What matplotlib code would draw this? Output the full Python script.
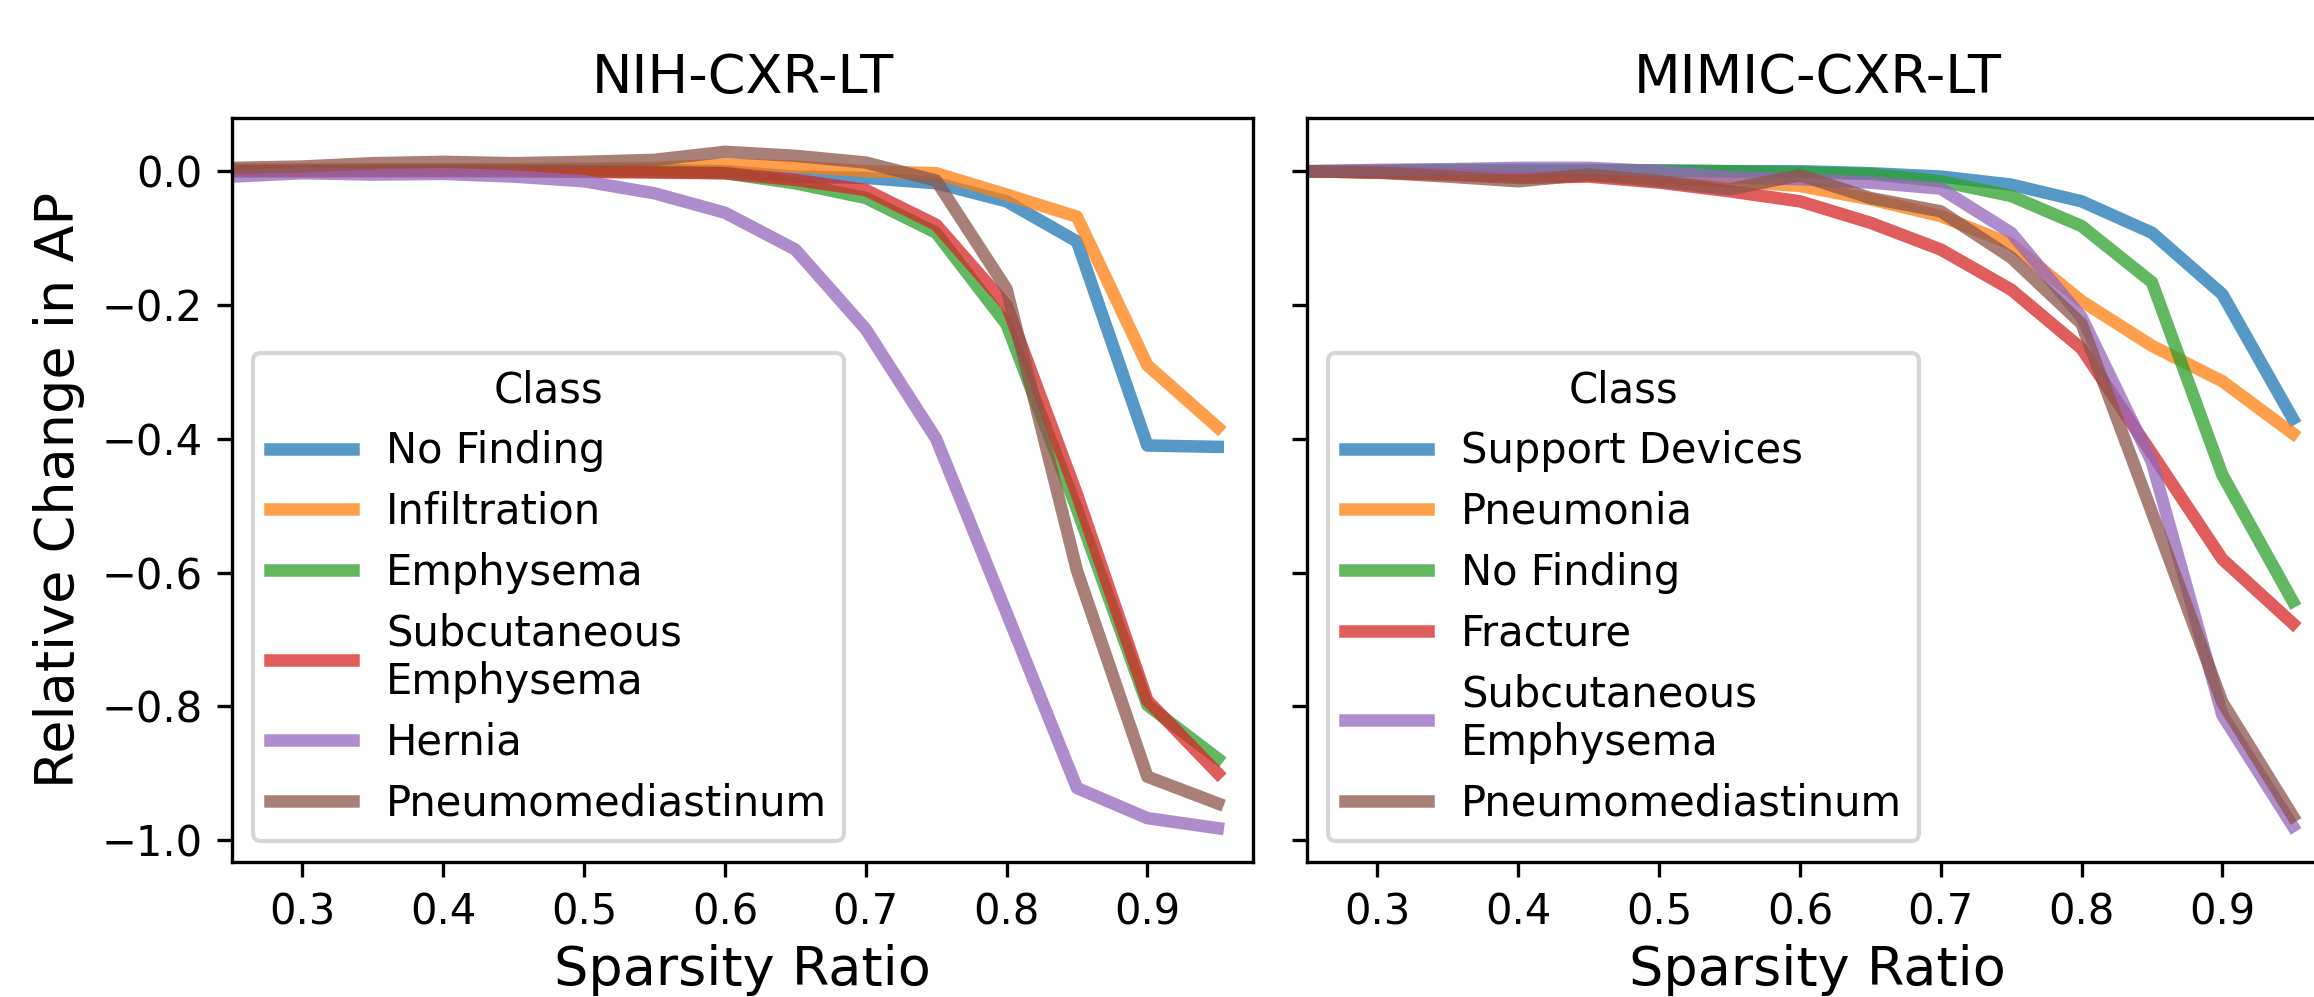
import matplotlib
matplotlib.use("Agg")
import matplotlib.pyplot as plt
import numpy as np

# sparsity ratios on the x axis
sparsity = [0.25, 0.3, 0.35, 0.4, 0.45, 0.5, 0.55, 0.6, 0.65, 0.7, 0.75, 0.8, 0.85, 0.9, 0.95]

# NIH-CXR-LT, relative change in AP per class
nih_classes = ["No Finding", "Infiltration", "Emphysema", "Subcutaneous\nEmphysema",
               "Hernia", "Pneumomediastinum"]
nih_no_finding = [0.002, 0.002, 0.002, 0.003, 0.002, 0.002, 0.002, 0.0, -0.008, -0.01, -0.018, -0.045, -0.105, -0.41, -0.412]
nih_infiltration = [0.002, 0.002, 0.003, 0.003, 0.003, 0.004, 0.005, 0.01, 0.007, 0.0, -0.003, -0.035, -0.068, -0.29, -0.383]
nih_emphysema = [0.0, 0.0, 0.001, 0.001, 0.0, 0.0, -0.001, -0.003, -0.018, -0.04, -0.092, -0.229, -0.505, -0.798, -0.878]
nih_subcut = [0.0, 0.0, 0.0, 0.0, 0.0, -0.001, -0.002, -0.003, -0.013, -0.028, -0.08, -0.2, -0.483, -0.791, -0.9]
nih_hernia = [-0.008, -0.003, -0.005, -0.004, -0.008, -0.015, -0.033, -0.062, -0.117, -0.236, -0.4, -0.66, -0.922, -0.967, -0.982]
nih_pneumomed = [0.005, 0.007, 0.012, 0.014, 0.012, 0.014, 0.017, 0.029, 0.023, 0.013, -0.014, -0.176, -0.597, -0.905, -0.945]

# MIMIC-CXR-LT, relative change in AP per class
mimic_classes = ["Support Devices", "Pneumonia", "No Finding", "Fracture",
                 "Subcutaneous\nEmphysema", "Pneumomediastinum"]
mimic_support = [0.0, 0.0, 0.001, 0.001, 0.001, 0.001, 0.0, 0.0, -0.003, -0.008, -0.02, -0.045, -0.092, -0.184, -0.37]
mimic_pneumonia = [0.0, -0.002, -0.005, -0.008, -0.006, -0.011, -0.015, -0.022, -0.042, -0.067, -0.109, -0.194, -0.261, -0.314, -0.392]
mimic_no_finding = [0.0, 0.001, 0.002, 0.002, 0.002, 0.001, 0.0, -0.002, -0.004, -0.015, -0.037, -0.082, -0.166, -0.454, -0.643]
mimic_fracture = [0.0, -0.002, -0.005, -0.01, -0.008, -0.017, -0.03, -0.045, -0.077, -0.117, -0.177, -0.265, -0.422, -0.58, -0.676]
mimic_subcut = [0.0, 0.002, 0.003, 0.005, 0.005, 0.0, -0.009, -0.012, -0.017, -0.026, -0.092, -0.218, -0.435, -0.813, -0.979]
mimic_pneumomed = [0.0, -0.002, -0.008, -0.015, -0.005, -0.015, -0.027, -0.006, -0.04, -0.06, -0.129, -0.228, -0.51, -0.794, -0.964]

nih_series = [nih_no_finding, nih_infiltration, nih_emphysema, nih_subcut, nih_hernia, nih_pneumomed]
mimic_series = [mimic_support, mimic_pneumonia, mimic_no_finding, mimic_fracture, mimic_subcut, mimic_pneumomed]

W, H = 2314, 997
fig = plt.figure(figsize=(W / 300, H / 300), dpi=300)
ax1 = fig.add_axes([232 / W, 135 / H, 1021 / W, 744 / H])
ax2 = fig.add_axes([1307 / W, 135 / H, 1021 / W, 744 / H], sharey=ax1)

panels = [(ax1, "NIH-CXR-LT", nih_classes, nih_series),
          (ax2, "MIMIC-CXR-LT", mimic_classes, mimic_series)]

for ax, title, classes, series in panels:
    for name, vals in zip(classes, series):
        ax.plot(sparsity, vals, lw=3, alpha=0.75, label=name)
    ax.set_title(title, fontsize=13)
    ax.set_xlabel("Sparsity Ratio", fontsize=13, labelpad=2.5)
    ax.set_xlim(0.25, 0.975)
    ax.set_xticks([0.3, 0.4, 0.5, 0.6, 0.7, 0.8, 0.9])
    ax.tick_params(labelsize=10)
    ax.legend(title="Class", loc="lower left", fontsize=10, title_fontsize=10,
              labelspacing=0.45)

ax1.set_ylabel("Relative Change in AP", fontsize=13)
ax1.set_yticks([0.0, -0.2, -0.4, -0.6, -0.8, -1.0])
plt.setp(ax2.get_yticklabels(), visible=False)

fig.savefig("out.png", dpi=300)
